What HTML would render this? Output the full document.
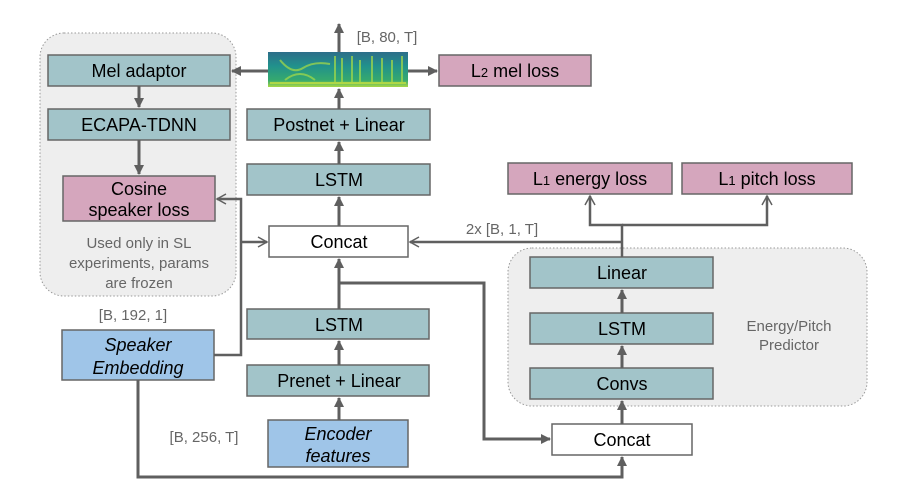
<!DOCTYPE html>
<html><head><meta charset="utf-8"><style>
html,body{margin:0;padding:0;background:#fff;}
svg text{font-family:"Liberation Sans",Arial,sans-serif;}
</style></head><body>
<svg width="913" height="498" viewBox="0 0 913 498" xmlns="http://www.w3.org/2000/svg">
<defs>
<marker id="a" markerWidth="10" markerHeight="10" refX="9" refY="5" orient="auto" markerUnits="userSpaceOnUse" viewBox="0 0 10 10"><path d="M0,0 L10,5 L0,10 z" fill="#5f5f5f"/></marker>
<marker id="o" markerWidth="12" markerHeight="12" refX="10" refY="6" orient="auto" markerUnits="userSpaceOnUse" viewBox="0 0 12 12"><path d="M1,1 L10,6 L1,11" fill="none" stroke="#5f5f5f" stroke-width="1.5"/></marker>
<linearGradient id="sg" x1="0" y1="0" x2="0" y2="1"><stop offset="0" stop-color="#2d6e8a"/><stop offset="0.4" stop-color="#21918c"/><stop offset="0.8" stop-color="#35a96f"/><stop offset="1" stop-color="#a8d845"/></linearGradient>
</defs>
<rect x="40" y="33" width="196" height="263" rx="24" fill="#eeeeee" stroke="#999" stroke-dasharray="1.5,2"/>
<rect x="508" y="248" width="359" height="158" rx="24" fill="#eeeeee" stroke="#999" stroke-dasharray="1.5,2"/>
<g stroke="#666" stroke-width="1.5">
<rect x="48" y="55" width="182" height="31" fill="#a2c4c9"/>
<rect x="48" y="109" width="182" height="31" fill="#a2c4c9"/>
<rect x="63" y="176" width="152" height="45" fill="#d5a6bd"/>
<rect x="62" y="330" width="152" height="50" fill="#9fc5e8"/>
<rect x="268" y="420" width="140" height="47" fill="#9fc5e8"/>
<rect x="247" y="365" width="182" height="31" fill="#a2c4c9"/>
<rect x="247" y="309" width="182" height="30" fill="#a2c4c9"/>
<rect x="269" y="226" width="139" height="31" fill="#fff"/>
<rect x="247" y="164" width="183" height="31" fill="#a2c4c9"/>
<rect x="247" y="109" width="183" height="31" fill="#a2c4c9"/>
<rect x="439" y="55" width="152" height="31" fill="#d5a6bd"/>
<rect x="508" y="163" width="164" height="31" fill="#d5a6bd"/>
<rect x="682" y="163" width="170" height="31" fill="#d5a6bd"/>
<rect x="530" y="257" width="183" height="31" fill="#a2c4c9"/>
<rect x="530" y="313" width="183" height="31" fill="#a2c4c9"/>
<rect x="530" y="368" width="183" height="31" fill="#a2c4c9"/>
<rect x="552" y="424" width="140" height="31" fill="#fff"/>
</g>
<rect x="268" y="52" width="140" height="35" fill="url(#sg)"/>
<g stroke="#9fd84a" stroke-width="2" fill="none" opacity="0.75">
<path d="M280,60 Q292,75 303,68 T330,64"/><path d="M285,80 Q300,68 315,80"/>
<path d="M335,56 V84"/><path d="M342,58 V84"/><path d="M352,56 V84"/><path d="M360,60 V84"/><path d="M372,56 V84"/><path d="M382,58 V84"/><path d="M392,60 V84"/><path d="M402,56 V84"/>
<path d="M270,83 H406" stroke="#c8e040"/>
</g>
<g stroke="#5f5f5f" stroke-width="3" fill="none">
<line x1="339" y1="52" x2="339" y2="24" marker-end="url(#a)"/>
<line x1="268" y1="71" x2="232" y2="71" marker-end="url(#a)"/>
<line x1="408" y1="71" x2="437" y2="71" marker-end="url(#a)"/>
<line x1="139" y1="86" x2="139" y2="107" marker-end="url(#a)"/>
<line x1="139" y1="140" x2="139" y2="174" marker-end="url(#a)"/>
<line x1="339" y1="109" x2="339" y2="89" marker-end="url(#a)"/>
<line x1="339" y1="164" x2="339" y2="142" marker-end="url(#a)"/>
<line x1="339" y1="226" x2="339" y2="197" marker-end="url(#a)"/>
<line x1="339" y1="309" x2="339" y2="259" marker-end="url(#a)"/>
<line x1="339" y1="365" x2="339" y2="341" marker-end="url(#a)"/>
<line x1="339" y1="420" x2="339" y2="398" marker-end="url(#a)"/>
<polyline points="339,283 484,283 484,439 550,439" marker-end="url(#a)"/>
<polyline points="138,380 138,477 622,477 622,457" marker-end="url(#a)"/>
<line x1="622" y1="424" x2="622" y2="401" marker-end="url(#a)"/>
<line x1="622" y1="368" x2="622" y2="346" marker-end="url(#a)"/>
<line x1="622" y1="313" x2="622" y2="290" marker-end="url(#a)"/>
</g>
<g stroke="#5f5f5f" stroke-width="2.5" fill="none">
<polyline points="214,355 241,355 241,199 217,199" marker-end="url(#o)"/>
<line x1="241" y1="242" x2="267" y2="242" marker-end="url(#o)"/>
<polyline points="622,257 622,225 590,225 590,196" marker-end="url(#o)"/>
<polyline points="622,225 767,225 767,196" marker-end="url(#o)"/>
<line x1="622" y1="242" x2="410" y2="242" marker-end="url(#o)"/>
</g>
<g font-size="18" fill="#000" text-anchor="middle">
<text x="139" y="77">Mel adaptor</text>
<text x="139" y="131">ECAPA-TDNN</text>
<text x="139" y="195">Cosine</text>
<text x="139" y="216">speaker loss</text>
<text x="339" y="131">Postnet + Linear</text>
<text x="339" y="186">LSTM</text>
<text x="339" y="248">Concat</text>
<text x="339" y="331">LSTM</text>
<text x="339" y="387">Prenet + Linear</text>
<text x="622" y="279">Linear</text>
<text x="622" y="335">LSTM</text>
<text x="622" y="390">Convs</text>
<text x="622" y="446">Concat</text>
<text x="515" y="77">L<tspan font-size="13">2</tspan> mel loss</text>
<text x="590" y="185">L<tspan font-size="13">1</tspan> energy loss</text>
<text x="767" y="185">L<tspan font-size="13">1</tspan> pitch loss</text>
<g font-style="italic">
<text x="138" y="351">Speaker</text>
<text x="138" y="374">Embedding</text>
<text x="338" y="440">Encoder</text>
<text x="338" y="462">features</text>
</g>
</g>
<g font-size="15" fill="#666" text-anchor="middle">
<text x="139" y="248">Used only in SL</text>
<text x="139" y="268">experiments, params</text>
<text x="139" y="288">are frozen</text>
<text x="789" y="331">Energy/Pitch</text>
<text x="789" y="350">Predictor</text>
<text x="133" y="320">[B, 192, 1]</text>
<text x="204" y="442">[B, 256, T]</text>
<text x="387" y="42">[B, 80, T]</text>
<text x="502" y="234">2x  [B, 1, T]</text>
</g>
</svg>
</body></html>
